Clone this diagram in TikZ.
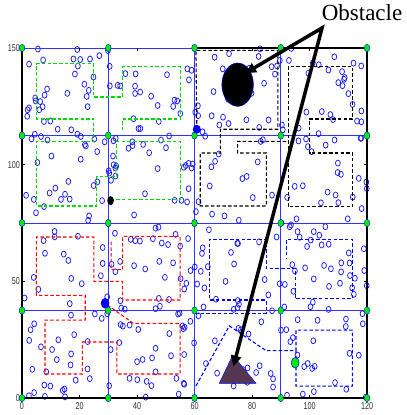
\documentclass[tikz,border=0pt]{standalone}
\usepackage{fontspec}
\setmainfont{Liberation Serif}
\setsansfont{Liberation Sans}
\usetikzlibrary{arrows.meta}

\definecolor{obst}{RGB}{85,55,80}
\definecolor{dotgreen}{RGB}{0,235,0}

\begin{document}
\begin{tikzpicture}[x=2.875pt,y=2.333pt,
  sensor/.style={draw=blue!90!white,line width=.75pt},
  gridline/.style={blue!80!white,line width=.8pt},
  corner/.style={draw=blue,fill=dotgreen,line width=.35pt},
  route/.style={line width=1.1pt,dash pattern=on 3.5pt off 2.2pt},
  pointer/.style={line width=3.5pt,line join=miter,
    {Triangle[length=11pt,width=10pt]}-{Triangle[length=11pt,width=10pt]}},
  ticklbl/.style={font=\sffamily\fontsize{10}{10}\selectfont,text=black!80,inner sep=0pt}]
\useasboundingbox (-7.652,-7.286) rectangle (133.565,170.586);

% grid of the cells
\foreach \gx in {30,60,90} \draw[gridline] (\gx,0) -- (\gx,150);
\foreach \gy in {37.5,75,112.5} \draw[gridline] (0,\gy) -- (120,\gy);

% sensor nodes
\pgfmathsetseed{4213}
\foreach \i in {1,...,420}{
  \pgfmathsetmacro\cx{rnd*120}
  \pgfmathsetmacro\cy{rnd*150}
  \draw[sensor] (\cx,\cy) ellipse[x radius=2.4pt,y radius=3pt];
}

% tours of the collectors
\draw[route,green!85!black] (30.8,85.2) -- (55,85.2) -- (55,110) -- (33,110) -- (33,95) -- (26,95)
  -- (26,82.3) -- (5,82.3) -- (5,110) -- (25,110) -- (25,119.6) -- (5,119.6) -- (5,143.2)
  -- (25,143.2) -- (25,129) -- (35,129) -- (35,142) -- (55,142) -- (55,119.6) -- (35,119.6) -- (35,115);
\draw[route,black] (60.8,115.2) -- (60.5,149) -- (89,149) -- (89,115.2) -- (69,115.2) -- (69,105)
  -- (62,105) -- (62,82.3) -- (85,82.3) -- (85,105) -- (75,105) -- (75,110) -- (92.6,110);
\draw[route,black] (92.6,82) -- (92.6,142) -- (115,142) -- (115,119.6) -- (100,119.6) -- (100,105)
  -- (115,105) -- (115,82) -- cycle;
\draw[route,red] (31,67) -- (31,55) -- (35,55) -- (35,69.3) -- (55,69.3) -- (55,42) -- (35,42)
  -- (35,50) -- (25,50) -- (25,69) -- (5,69) -- (5,44) -- (22,44) -- (22,33.4) -- (8,33.4)
  -- (8,10.3) -- (21,10.3) -- (21,24) -- (33,24) -- (33,10.3) -- (55,10.3) -- (55,32)
  -- (38.7,32) -- (28.9,40.6);
\draw[route,blue] (60.2,36.3) -- (84.9,36.3) -- (84.9,42) -- (65.2,42) -- (65.2,68) -- (84.9,68)
  -- (84.9,55.6) -- (95,55.6) -- (95,42.5) -- (114.9,42.5) -- (114.9,68) -- (92.1,68) -- (92.1,60);
\draw[route,blue] (60.5,5.2) -- (72.1,30.9) -- (84.9,20.3) -- (95.3,20.3) -- (95.3,29.1)
  -- (114.9,29.1) -- (114.9,5.1) -- (95.3,5.1) -- (95.3,20.3);

% obstacles
\filldraw[fill=black,draw=blue,line width=.4pt] (75,134.3) ellipse[x radius=5.5,y radius=9.3];
\filldraw[fill=obst,draw=blue,line width=.4pt] (68.6,6.3) -- (81.4,6.3) -- (73.3,18.4) -- cycle;

% axes
\draw[black,line width=1.1pt] (60,150) -- (120,150) -- (120,0) -- (0,0) -- (0,150);
\draw[gridline] (0,150) -- (60,150);
\foreach \v in {20,40,...,100}{
  \draw[black,line width=.5pt] (\v,0) -- ++(0,3pt);
  \draw[black,line width=.5pt] (\v,150) -- ++(0,-3pt);
}
\foreach \v in {50,100}{
  \draw[black,line width=.5pt] (0,\v) -- ++(3pt,0);
  \draw[black,line width=.5pt] (120,\v) -- ++(-3pt,0);
}
\foreach \v in {0,20,...,120}
  \node[ticklbl,anchor=north] (xl\v) at (\v,-1.9) {\scalebox{0.72}[1]{\v}};
\foreach \v in {0,50,100,150}
  \node[ticklbl,anchor=east] (yl\v) at (-0.7,\v) {\scalebox{0.72}[1]{\v}};

% corner points and collectors
\foreach \gx in {0,30,...,120}
  \foreach \gy in {0,37.5,...,150}
    \filldraw[corner] (\gx,\gy) ellipse[x radius=2.9pt,y radius=3.7pt];
\filldraw[fill=dotgreen,draw=blue,line width=.5pt] (95,15.1) ellipse[x radius=4pt,y radius=5.3pt];
\fill[blue] (60.8,115.2) ellipse[x radius=4pt,y radius=4.5pt];
\fill[blue] (28.9,40.6) ellipse[x radius=4.3pt,y radius=5.3pt];
\fill[black] (30.8,84.6) ellipse[x radius=3.3pt,y radius=4.6pt];

% label and pointers
\node[anchor=base west,inner sep=0pt,font=\fontsize{23}{23}\selectfont] (lbl) at (104.2,162) {Obstacle};
\coordinate (apex) at (104.35,158.6);
\coordinate (tipA) at (77.6,139.2);
\coordinate (tipB) at (73.5,13.4);
\draw[pointer] (tipA) -- (apex) -- (tipB);
\end{tikzpicture}
\end{document}
